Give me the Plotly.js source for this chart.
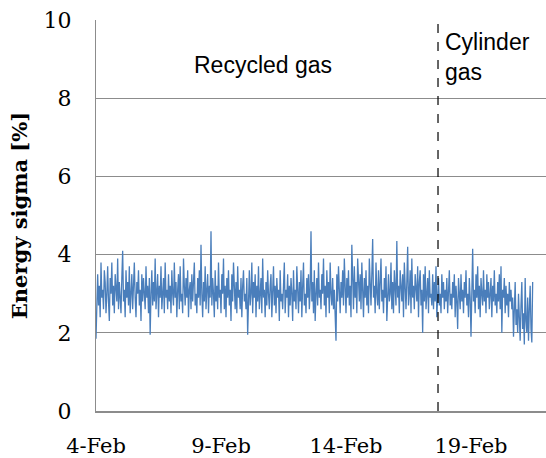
<!DOCTYPE html>
<html>
<head>
<meta charset="utf-8">
<script src="https://cdn.plot.ly/plotly-3.0.1.min.js"></script>
<style>html,body{margin:0;padding:0;background:#fff;}#chart{width:546px;height:458px;}</style>
</head>
<body>
<div id="chart"></div>
<script>
// Sampling: first sample time and spacing between samples (30 per day)
const startTime = '2024-02-04T00:00:00';
const stepHours = 0.8;

// Energy sigma [%] readings, one row per day
const sigmaValues = [
  // 4-Feb
  1.85, 2.9, 3.5, 2.7, 3.2, 2.4, 3.8, 2.9, 3.1, 2.6, 3.6, 3.3, 2.5, 3.0, 3.7, 2.8, 2.3, 3.4, 3.0, 3.8, 2.7, 3.2, 2.5, 3.5, 3.1, 2.8, 3.9, 2.6, 3.3, 3.0,
  // 5-Feb
  2.5, 3.4, 4.1, 2.8, 3.1, 2.4, 3.6, 2.9, 3.3, 2.7, 3.7, 2.5, 3.0, 3.5, 2.6, 3.2, 3.8, 2.9, 2.4, 3.3, 3.0, 3.6, 2.7, 3.1, 2.3, 3.5, 2.8, 3.4, 3.0, 2.6,
  // 6-Feb
  3.7, 2.9, 3.2, 2.5, 3.4, 1.95, 3.0, 3.6, 2.7, 3.3, 2.8, 3.9, 2.6, 3.1, 3.5, 2.4, 3.2, 2.9, 3.7, 2.6, 3.0, 3.4, 2.5, 3.8, 2.9, 3.1, 2.6, 3.5, 2.8, 3.2,
  // 7-Feb
  2.5, 3.6, 3.0, 2.7, 3.8, 2.9, 3.3, 2.4, 3.1, 3.5, 2.6, 3.7, 2.8, 3.0, 2.5, 3.9, 3.2, 2.7, 3.4, 2.9, 3.6, 2.4, 3.1, 3.3, 2.6, 3.5, 2.8, 3.2, 3.8, 2.7,
  // 8-Feb
  3.0, 2.5, 3.4, 2.9, 3.6, 2.7, 4.25, 3.0, 2.4, 3.3, 2.8, 3.7, 2.6, 3.1, 3.5, 2.5, 3.2, 2.9, 4.6, 2.7, 3.4, 3.0, 2.4, 3.6, 2.8, 3.2, 2.6, 3.8, 2.9, 3.1,
  // 9-Feb
  2.5, 3.5, 3.0, 3.9, 2.6, 3.2, 2.4, 3.4, 2.9, 3.6, 2.7, 3.1, 2.3, 3.5, 2.8, 3.8, 3.0, 2.6, 3.3, 2.5, 3.7, 2.9, 3.1, 2.6, 3.4, 2.4, 3.2, 3.6, 2.8, 3.0,
  // 10-Feb
  2.6, 3.4, 1.95, 3.1, 3.6, 2.7, 3.0, 3.8, 2.5, 3.3, 2.9, 3.5, 2.4, 3.2, 2.8, 3.7, 2.6, 3.0, 3.4, 2.5, 3.9, 2.9, 3.1, 2.4, 3.3, 2.7, 3.6, 3.0, 2.6, 3.2,
  // 11-Feb
  3.5, 2.4, 3.0, 3.7, 2.7, 3.2, 2.5, 3.4, 2.9, 3.1, 2.3, 3.6, 2.8, 3.0, 2.6, 3.3, 3.8, 2.5, 3.1, 2.9, 3.5, 2.4, 3.2, 2.7, 3.4, 3.0, 2.3, 3.6, 2.8, 3.1,
  // 12-Feb
  2.6, 3.7, 3.0, 2.5, 3.3, 2.8, 3.6, 2.4, 3.2, 3.8, 2.7, 3.0, 2.5, 3.4, 2.9, 3.5, 2.6, 3.1, 4.6, 2.8, 3.3, 2.5, 3.6, 2.3, 3.0, 3.4, 2.7, 3.8, 2.9, 3.1,
  // 13-Feb
  2.6, 3.5, 3.0, 3.9, 2.7, 3.2, 2.4, 3.6, 2.9, 3.3, 2.5, 3.8, 3.0, 2.7, 3.4, 2.6, 3.1, 2.4, 1.8, 3.5, 2.8, 3.7, 3.0, 2.5, 3.3, 2.9, 3.6, 2.7, 3.9, 3.1,
  // 14-Feb
  2.5, 3.4, 2.9, 3.6, 2.7, 3.2, 2.4, 4.25, 3.0, 2.6, 3.7, 2.9, 3.3, 2.5, 3.9, 3.1, 2.8, 3.5, 2.6, 3.8, 3.0, 2.4, 3.4, 2.9, 3.6, 2.7, 3.2, 2.5, 3.9, 3.0,
  // 15-Feb
  2.7, 3.5, 4.4, 2.9, 3.2, 2.5, 3.8, 3.0, 2.7, 3.6, 2.6, 3.3, 3.9, 2.8, 3.1, 2.5, 3.4, 2.9, 3.7, 2.3, 3.2, 3.5, 2.8, 3.0, 3.8, 2.6, 3.3, 2.5, 3.6, 3.0,
  // 16-Feb
  2.7, 4.35, 2.9, 3.2, 2.5, 3.6, 3.0, 2.8, 3.5, 2.4, 3.8, 3.1, 2.6, 3.3, 4.2, 2.7, 3.0, 3.6, 2.5, 3.9, 2.9, 3.2, 2.6, 3.5, 3.0, 2.8, 3.7, 2.4, 3.3, 3.6,
  // 17-Feb
  2.7, 3.1, 2.0, 3.5, 2.8, 3.7, 2.6, 3.2, 3.4, 2.5, 3.6, 2.9, 3.0, 2.7, 3.5, 2.6, 3.3, 2.8, 3.7, 2.4, 3.1, 3.4, 2.7, 3.0, 2.5, 3.5, 2.9, 3.3, 2.6, 3.1,
  // 18-Feb
  2.8, 3.4, 2.5, 3.1, 3.6, 2.7, 3.0, 2.6, 3.3, 2.9, 3.5, 2.4, 3.2, 2.8, 2.1, 3.4, 3.0, 2.6, 3.5, 2.8, 3.1, 2.5, 3.3, 2.9, 3.6, 2.7, 3.0, 2.4, 3.4, 2.9,
  // 19-Feb
  1.9, 3.3, 4.15, 2.8, 3.1, 2.5, 3.5, 2.9, 3.7, 2.6, 3.2, 2.4, 3.4, 3.0, 2.7, 3.6, 2.8, 3.1, 2.5, 3.5, 2.9, 3.3, 2.6, 3.0, 3.4, 2.4, 3.2, 2.8, 3.6, 2.7,
  // 20-Feb
  3.0, 2.5, 3.3, 2.8, 3.5, 2.6, 3.7, 2.0, 3.1, 2.9, 3.4, 2.5, 3.2, 2.7, 3.0, 2.4, 3.3, 2.8, 3.1, 2.6, 2.9, 1.9, 2.7, 3.3, 2.2, 2.6, 2.0, 3.0, 2.4, 1.8,
  // 21-Feb
  2.7, 3.3, 2.1, 2.5, 1.7, 3.4, 2.3, 2.0, 2.9, 1.8, 2.6, 3.2, 2.1, 1.75, 3.3
];

// Gas switch time (recycled -> cylinder)
const switchTime = '2024-02-17T16:20:00';
const xRange = ['2024-02-04', '2024-02-22'];
const yRange = [0, 10];
const regionLabels = ['Recycled gas', 'Cylinder<br>gas'];
const yTitle = 'Energy sigma [%]';

const t0 = new Date(startTime + 'Z').getTime();
const xs = sigmaValues.map((v, i) => new Date(t0 + i * stepHours * 3600000).toISOString());

const trace = {
  x: xs, y: sigmaValues, type: 'scatter', mode: 'lines',
  line: {color: '#4a7ebb', width: 1.3},
  hoverinfo: 'skip'
};

const layout = {
  width: 546, height: 458,
  margin: {l: 96, r: 0, t: 20, b: 47},
  paper_bgcolor: '#ffffff', plot_bgcolor: '#ffffff',
  showlegend: false,
  font: {family: 'DejaVu Serif', color: '#000'},
  xaxis: {
    type: 'date', range: xRange,
    tick0: '2024-02-04', dtick: 5 * 86400000,
    tickformat: '%-d-%b',
    showgrid: false, zeroline: false,
    showline: true, linecolor: '#8c8c8c', linewidth: 2,
    ticks: '', ticklabelstandoff: 15,
    tickfont: {family: 'DejaVu Serif', size: 21, color: '#000'},
    automargin: false
  },
  yaxis: {
    range: yRange, dtick: 2, tick0: 0,
    showgrid: true, gridcolor: '#8c8c8c', gridwidth: 1,
    zeroline: false,
    showline: true, linecolor: '#8c8c8c', linewidth: 1,
    ticks: '', ticklabelstandoff: 19,
    tickfont: {family: 'DejaVu Serif', size: 22, color: '#000'},
    title: {text: yTitle, standoff: 10, font: {family: 'DejaVu Serif', size: 21, weight: 'bold', color: '#000'}},
    automargin: false
  },
  shapes: [{
    type: 'line', xref: 'x', yref: 'y',
    x0: switchTime, x1: switchTime, y0: yRange[0], y1: yRange[1],
    line: {color: '#000', width: 1.2, dash: 'dash'}
  }],
  annotations: [
    {text: regionLabels[0], xref: 'paper', yref: 'paper', x: 0.371, y: 0.885, xanchor: 'center', yanchor: 'middle',
     showarrow: false, font: {family: 'Liberation Sans', size: 23, color: '#000'}},
    {text: regionLabels[1], xref: 'paper', yref: 'paper', x: 0.772, y: 0.905, xanchor: 'left', yanchor: 'middle', align: 'left',
     showarrow: false, font: {family: 'Liberation Sans', size: 23, color: '#000'}}
  ]
};

Plotly.newPlot('chart', [trace], layout, {staticPlot: true, displayModeBar: false});
</script>
</body>
</html>
